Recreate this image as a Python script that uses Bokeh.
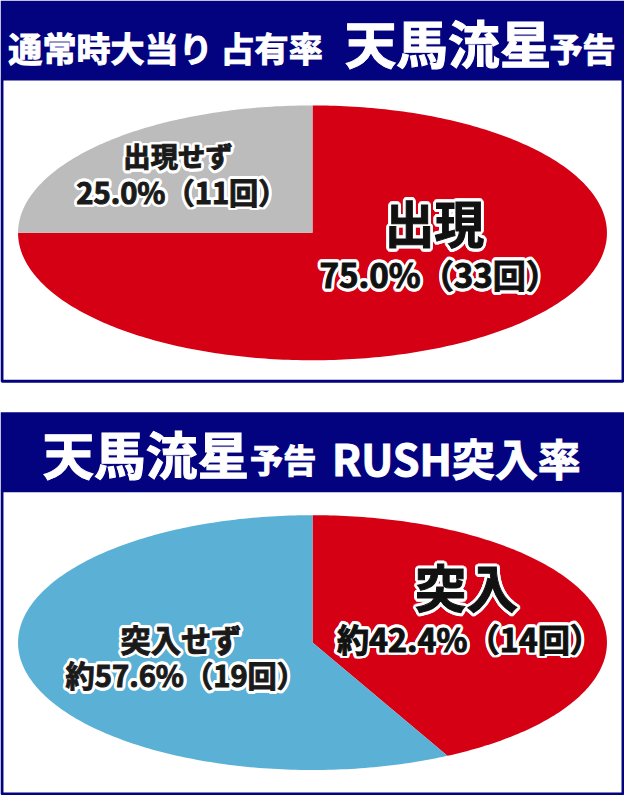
import numpy as np
from bokeh.plotting import figure
from bokeh.models import Range1d
from bokeh.core.properties import value
from bokeh.embed import file_html
from bokeh.resources import INLINE

# ---------------- data ----------------
panel1_categories = ["出現", "出現せず"]
panel1_counts = [33, 11]
panel1_percents = ["75.0%", "25.0%"]
panel1_colors = ["#d50014", "#bcbcbc"]

panel2_categories = ["突入", "突入せず"]
panel2_counts = [14, 19]
panel2_percents = ["約42.4%", "約57.6%"]
panel2_colors = ["#d50014", "#5bb1d5"]

title1_parts = ["通常時大当り 占有率", "天馬流星", "予告"]
title2_parts = ["天馬流星", "予告", "RUSH突入率"]

# ---------------- layout ----------------
REF_W, REF_H = 640, 811
W, H = 624, 795
FS = W / REF_W
NAVY = "#03037f"
FONT = value("Noto Sans CJK JP")

p = figure(width=W, height=H, x_range=Range1d(0, REF_W), y_range=Range1d(REF_H, 0),
           output_backend="svg", toolbar_location=None, min_border=0,
           x_axis_location=None, y_axis_location=None,
           background_fill_color="white", border_fill_color="white")
p.grid.visible = False
p.outline_line_color = None

# headers
p.quad(left=[0, 0], right=[REF_W, REF_W], top=[0, 420], bottom=[80, 500],
       fill_color=NAVY, line_color=None)
# boxes
p.quad(left=[1.5, 1.5], right=[638.5, 638.5], top=[80, 500], bottom=[388.5, 809.5],
       fill_color="white", line_color=NAVY, line_width=3)


def wedge_polys(counts, cx, cy, rx, ry, n=400):
    total = float(sum(counts))
    xs, ys = [], []
    start = 0.0
    for c in counts:
        end = start + c / total
        t = np.linspace(start, end, max(4, int(n * (end - start)) + 2)) * 2 * np.pi
        xs.append([cx] + list(cx + rx * np.sin(t)))
        ys.append([cy] + list(cy - ry * np.cos(t)))
        start = end
    return xs, ys


for counts, colors, cy in [(panel1_counts, panel1_colors, 237),
                           (panel2_counts, panel2_colors, 655)]:
    xs, ys = wedge_polys(counts, 320, cy, 302, 130)
    p.patches(xs=xs, ys=ys, fill_color=colors, line_color=None)


def put(txt, x, y, size, color="white", align="left"):
    p.text(x=[x], y=[y], text=[txt], text_font=FONT, text_font_style="bold",
           text_font_size=f"{size * FS:.1f}px", text_color=color,
           text_outline_color=color,
           text_align=align, text_baseline="middle")


# halo offsets (screen px)
ang = np.linspace(0, 2 * np.pi, 16, endpoint=False)
HX = list(np.round(2.8 * np.cos(ang), 2))
HY = list(np.round(2.8 * np.sin(ang), 2))


def put_halo(txt, x, y, size, color="#111111"):
    n = len(HX)
    p.text(x=[x] * n, y=[y] * n, text=[txt] * n, x_offset=HX, y_offset=HY,
           text_font=FONT, text_font_style="bold",
           text_font_size=f"{size * FS:.1f}px", text_color="white",
           text_outline_color="white",
           text_align="center", text_baseline="middle")
    p.text(x=[x], y=[y], text=[txt], text_font=FONT, text_font_style="bold",
           text_font_size=f"{size * FS:.1f}px", text_color=color,
           text_outline_color=color,
           text_align="center", text_baseline="middle")


# titles
put(title1_parts[0], 8, 47, 35)
put(title1_parts[1], 353, 42, 53)
put(title1_parts[2], 563, 48, 34)

put(title2_parts[0], 43, 461, 53)
put(title2_parts[1], 256, 468, 34)
put(title2_parts[2], 340, 466, 44)

# labels
lab = lambda pct, n: f"{pct}（{n}回）"
put_halo(panel1_categories[1], 182, 158, 28, "#1a1a1a")
put_halo(lab(panel1_percents[1], panel1_counts[1]), 186, 194, 30, "#1a1a1a")
put_halo(panel1_categories[0], 445, 225, 51)
put_halo(lab(panel1_percents[0], panel1_counts[0]), 450, 279, 34)

put_halo(panel2_categories[0], 478, 597, 53)
put_halo(lab(panel2_percents[0], panel2_counts[0]), 481, 650, 33)
put_halo(panel2_categories[1], 185, 651, 31, "#1a1a1a")
put_halo(lab(panel2_percents[1], panel2_counts[1]), 190, 687, 30, "#1a1a1a")

open("out.html", "w").write(file_html(p, INLINE))
